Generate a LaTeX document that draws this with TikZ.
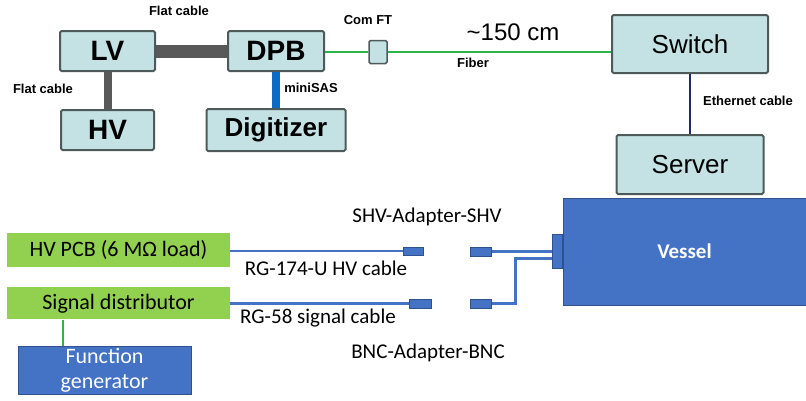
\documentclass[tikz,border=0pt]{standalone}
\usepackage{fontspec}
\setmainfont{Liberation Sans}
\newfontfamily\calfont{Carlito}
\usepackage{tikz}
\usetikzlibrary{positioning}
\definecolor{boxfill}{HTML}{C4E2E4}
\definecolor{boxline}{HTML}{4E5A5A}
\definecolor{pcbgreen}{HTML}{92D050}
\definecolor{vblue}{HTML}{4472C4}
\definecolor{vline}{HTML}{2F528F}
\definecolor{fibergreen}{HTML}{2DB34A}
\definecolor{flatgray}{HTML}{595959}
\definecolor{sasblue}{HTML}{0A6CC4}
\definecolor{ethnavy}{HTML}{1F2A6B}

\begin{document}
\begin{tikzpicture}[x=1pt, y=-1pt,
  unit/.style={draw=boxline, fill=boxfill, line width=2pt, rounded corners=1.5pt, inner sep=0pt},
  big/.style={font=\fontsize{28}{30}\selectfont\bfseries},
  mid/.style={font=\fontsize{26}{28}\selectfont},
  tag/.style={font=\fontsize{13}{14}\selectfont\bfseries, inner sep=0pt},
  pcb/.style={fill=pcbgreen, inner sep=0pt, font=\calfont\fontsize{22}{24}\selectfont},
  cal/.style={font=\calfont\fontsize{21}{24}\selectfont, inner sep=0pt},
  conn/.style={draw=vline, fill=vblue, line width=1pt, inner sep=0pt, minimum width=20pt, minimum height=8pt},
  coax/.style={draw=vblue, line width=2.5pt},
  flat/.style={draw=flatgray},
  fiber/.style={draw=fibergreen, line width=2.5pt}
]
\useasboundingbox (0,0) rectangle (806,400);
% readout chain
\node[unit, big, minimum width=95pt, minimum height=40pt] (lv) at (107.5,51) {LV};
\node[unit, big, minimum width=96pt, minimum height=40pt, right=71pt of lv] (dpb) {DPB};
\node[unit, big, minimum width=93pt, minimum height=40pt, below=37pt of lv] (hv) {HV};
\node[unit, minimum width=139pt, minimum height=42pt, below=36pt of dpb, font=\fontsize{26}{28}\selectfont\bfseries] (dig) {Digitizer};
\node[unit, line width=1.5pt, minimum width=18pt, minimum height=23pt] (comft) at (378,52) {};
\node[unit, mid, minimum width=156pt, minimum height=58pt] (switch) at (690,44) {Switch};
\node[unit, mid, minimum width=147pt, minimum height=59pt, below=60pt of switch] (server) {Server};
\draw[flat, line width=13pt] (lv) -- (dpb);
\draw[flat, line width=8pt] (lv) -- (hv);
\draw[draw=sasblue, line width=8pt] (dpb.south) -- (dpb.south |- dig.north);
\draw[fiber] (dpb.east |- comft) -- (comft);
\draw[fiber] (comft) -- (comft -| switch.west);
\draw[draw=ethnavy, line width=2pt] (switch) -- (server);
\node[tag] at (179,11) {Flat cable};
\node[tag] at (43,89) {Flat cable};
\node[tag] at (311,88) {miniSAS};
\node[tag] at (368,20) {Com FT};
\node[font=\fontsize{24}{26}\selectfont, inner sep=0pt] at (513,32) {\textasciitilde150 cm};
\node[tag] at (473,63) {Fiber};
\node[tag] at (748,101) {Ethernet cable};
% vessel test stand
\node[pcb, minimum width=223pt, minimum height=34pt] (hvpcb) at (118.5,250) {HV PCB (6 MΩ load)};
\node[pcb, minimum width=223pt, minimum height=32pt, below=20pt of hvpcb] (sigdist) {Signal distributor};
\node[draw=vline, fill=vblue, line width=1pt, inner sep=0pt, minimum width=173pt, minimum height=48pt, align=center, text=white, font=\calfont\fontsize{22}{25}\selectfont] (funcgen) at (104.5,370) {Function\\generator};
\node[draw=vline, fill=vblue, line width=1pt, inner sep=0pt, minimum width=243pt, minimum height=107pt, text=white, font=\calfont\fontsize{21}{24}\selectfont\bfseries] (vessel) at (684.5,251.5) {Vessel};
\node[draw=vline, fill=vblue, line width=1pt, inner sep=0pt, minimum width=10pt, minimum height=34pt, left=0pt of vessel] (port) {};
\node[conn] (c1) at (413,251) {};
\node[conn, minimum width=22pt, minimum height=9pt] (c2) at (420,303.5) {};
\node[conn, minimum width=21pt, minimum height=9pt] (c3) at (480.5,251.5) {};
\node[conn, minimum width=21pt, minimum height=9pt] (c4) at (480.5,303.5) {};
\coordinate (tap) at ([xshift=56pt]sigdist.south west);
\draw[draw=fibergreen, line width=2.5pt] (tap) -- (tap |- funcgen.north);
\draw[coax] (hvpcb.east |- c1) -- (c1);
\draw[coax] (sigdist.east |- c2) -- (c2);
\draw[coax] (c3) -- (c3 -| port.west);
\draw[coax] (c4) -| ([xshift=-36pt,yshift=-7pt]port.west) -- ([yshift=-7pt]port.west);
\node[cal] at (427,217) {SHV-Adapter-SHV};
\node[cal] at (326,268) {RG-174-U HV cable};
\node[cal] at (318,318) {RG-58 signal cable};
\node[cal] at (428,353) {BNC-Adapter-BNC};
\end{tikzpicture}
\end{document}
